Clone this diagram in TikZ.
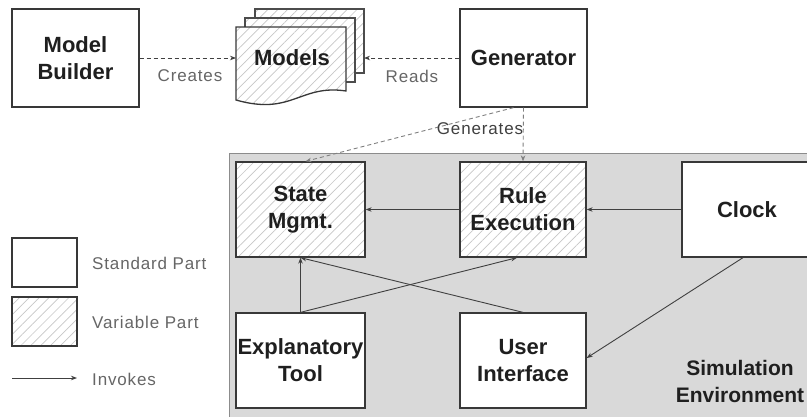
\documentclass[tikz,border=0pt]{standalone}
\usepackage{fontspec}
\setmainfont{Liberation Sans}
\newfontfamily\lblfont[LetterSpace=5]{Liberation Sans}
\usetikzlibrary{arrows.meta,patterns.meta,calc}
\begin{document}
\begin{tikzpicture}[x=1pt,y=-1pt,
  box/.style={draw=black!78,line width=1.3pt,fill=white,minimum width=#1,minimum height=95pt,inner sep=0pt,align=center,text=black!88,font=\bfseries\fontsize{22}{27}\selectfont},
  hatch/.style={preaction={fill=white},pattern={Lines[angle=45,distance=7pt,line width=0.7pt]},pattern color=black!22},
  lbl/.style={text=black!60,font=\lblfont\fontsize{17}{20}\selectfont,inner sep=0pt},
  arr/.style={draw=black!75,line width=0.9pt,-{Stealth[length=6pt,width=4.5pt]}},
  darr/.style={arr,dash pattern=on 4pt off 3pt},
  garr/.style={darr,draw=black!50}
]
\clip (0,0) rectangle (807,416);
\fill[white] (0,0) rectangle (807,416);
% simulation environment background
\draw[fill=black!15,draw=black!45,line width=1pt] (229,153) rectangle (830,440);
\node[text=black!88,font=\bfseries\fontsize{21}{27}\selectfont,align=center,inner sep=0pt] (simenv) at (740,381) {Simulation\\Environment};

% top row
\node[box=127pt,minimum height=98pt] (mb) at (75.5,58) {Model\\Builder};
\node[box=127pt,minimum height=98pt] (gen) at (523.5,58) {Generator};

% models stack
\draw[hatch,draw=black!70,line width=1.2pt] (255,9) rectangle (364,73);
\draw[hatch,draw=black!70,line width=1.2pt] (245,18) rectangle (355,82);
\draw[hatch,draw=black!78,line width=1.3pt] (236,27) -- (346,27) -- (346,91) .. controls (300,84) and (292,116) .. (236,100) -- cycle;
\node[text=black!88,font=\bfseries\fontsize{22}{27}\selectfont] (models) at (292,58) {Models};
\coordinate (mleft) at (236,58);
\coordinate (mright) at (364,58);

\draw[darr] (mb.east) -- (mleft);
\draw[darr] (gen.west) -- (mright);
\node[lbl] (creates) at (190,76) {Creates};
\node[lbl] (reads) at (412,76) {Reads};

% simulation boxes
\node[box=129pt,hatch] (state) at (300.5,209.5) {State\\Mgmt.};
\node[box=126pt,hatch] (rule) at (523,209.5) {Rule\\Execution};
\node[box=130pt] (clock) at (747,209.5) {Clock};
\node[box=129pt] (expl) at (300.5,360.5) {Explanatory\\Tool};
\node[box=126pt] (ui) at (523,360.5) {User\\Interface};

% generates
\draw[garr] ([xshift=-10pt]gen.south) -- ([xshift=5pt]state.north);
\draw[garr] (gen.south) -- (rule.north);
\node[text=black!75,font=\lblfont\fontsize{17}{20}\selectfont,inner sep=0pt] (gentxt) at (480,129) {Generates};

% invokes
\draw[arr] (clock.west) -- (rule.east);
\draw[arr] (rule.west) -- (state.east);
\draw[arr] (expl.north) -- (state.south);
\draw[arr] (expl.north) -- ([xshift=-6pt]rule.south);
\draw[arr] (ui.north) -- (state.south);
\draw[arr] ([xshift=-4pt]clock.south) -- ([yshift=2.5pt]ui.east);

% legend
\node[box=65pt,minimum height=49pt] (lgstd) at (44.5,262.5) {};
\node[box=65pt,minimum height=49pt,hatch] (lgvar) at (44.5,321.5) {};
\coordinate (lga) at (12,378);
\coordinate (lgb) at (77,378);
\draw[arr] (lga) -- (lgb);
\node[lbl,anchor=west] (tstd) at (92,263) {Standard Part};
\node[lbl,anchor=west] (tvar) at (92,322) {Variable Part};
\node[lbl,anchor=west] (tinv) at (92,379) {Invokes};
\end{tikzpicture}
\end{document}
